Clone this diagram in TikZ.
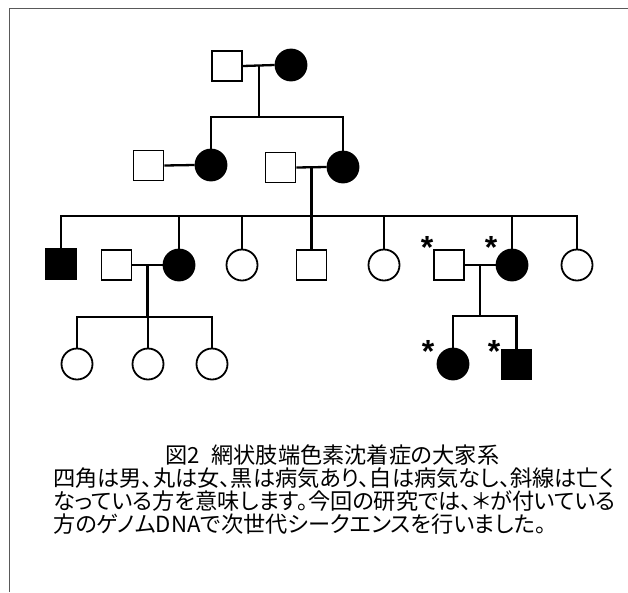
\documentclass[tikz,border=0pt]{standalone}
\usepackage{fontspec}
\newfontfamily\jpfont[RawFeature=+palt]{Noto Sans CJK JP}
\newfontfamily\astfont{Liberation Sans}
\usetikzlibrary{calc}
\tikzset{
  male/.style={draw, rectangle, line width=1.8pt, minimum size=30pt, inner sep=0pt},
  female/.style={draw, circle, line width=1.8pt, minimum size=31pt, inner sep=0pt},
  aff/.style={fill=black},
  conn/.style={line width=2.3pt, line join=miter},
  ast/.style={inner sep=0pt, anchor=base, font=\astfont\bfseries\fontsize{32pt}{32pt}\selectfont},
  capt/.style={inner sep=0pt, font=\jpfont\fontsize{22.2pt}{24pt}\selectfont},
}
\begin{document}
\begin{tikzpicture}[x=1pt,y=-1pt]
\useasboundingbox (0,0) rectangle (628,592);
\draw[line width=1pt, color=black!65] (9,592) -- (9,8) -- (628,8);
% generation I
\node[male] (A) at (227,66) {};
\node[female,aff] (B) at (291,65) {};
% generation II
\node[male] (P) at (148.5,165.5) {};
\node[female,aff] (C) at (211,165) {};
\node[male] (D) at (280.5,167.5) {};
\node[female,aff] (E) at (343,167) {};
% generation III
\node[male,aff] (S1) at (61,264) {};
\node[male] (F) at (116.5,265) {};
\node[female,aff] (G) at (179,265) {};
\node[female] (C3) at (242,265) {};
\node[male] (H) at (311.5,265) {};
\node[female] (C5) at (384,265) {};
\node[male] (I) at (449,265) {};
\node[female,aff] (J) at (512,265) {};
\node[female] (K) at (577,265) {};
% generation IV
\node[female] (L1) at (77,364) {};
\node[female] (L2) at (148,364) {};
\node[female] (L3) at (212,364) {};
\node[female,aff] (R1) at (453,364) {};
\node[male,aff] (R2) at (516.5,364.5) {};
% asterisks
\node[ast] (a1) at (427,258) {*};
\node[ast] (a2) at (491,258) {*};
\node[ast] (a3) at (428,362) {*};
\node[ast] (a4) at (494,362) {*};
% sibship coordinates
\coordinate (sib1) at (259,117);
\coordinate (sib3) at (311.5,216);
\coordinate (sib4l) at (148,317);
\coordinate (sib4r) at (480.5,316);
% connectors
\coordinate (m1) at ($(A.east)!0.5!(B.west)$);
\draw[conn] (A.east) -- (B.west);
\draw[conn] (m1) -- (m1 |- sib1);
\draw[conn] (C.north) -- (C.north |- sib1) -- (E.north |- sib1) -- (E.north);
\draw[conn] (P.east) -- (C.west);
\coordinate (m2) at ($(D.east)!0.5!(E.west)$);
\draw[conn] (D.east) -- (E.west);
\draw[conn] (m2) -- (H.north);
\draw[conn] (S1.north) -- (S1.north |- sib3) -- (K.north |- sib3) -- (K.north);
\foreach \n in {G,C3,C5,J} \draw[conn] (\n.north) -- (\n.north |- sib3);
\coordinate (m3) at ($(F.east)!0.5!(G.west)$);
\draw[conn] (F.east) -- (G.west);
\draw[conn] (m3) -- (m3 |- sib4l);
\draw[conn] (L1.north) -- (L1.north |- sib4l) -- (L3.north |- sib4l) -- (L3.north);
\draw[conn] (L2.north) -- (L2.north |- sib4l);
\coordinate (m4) at ($(I.east)!0.5!(J.west)$);
\draw[conn] (I.east) -- (J.west);
\draw[conn] (m4) -- (m4 |- sib4r);
\draw[conn] (R1.north) -- (R1.north |- sib4r) -- (R2.north |- sib4r) -- (R2.north);
% caption
\node[capt, anchor=base] (t0) at (332.5,463) {図2\hspace{0.5em}網状肢端色素沈着症の大家系};
\node[capt, anchor=base west] (t1) at (53,486) {四角は男、丸は女、黒は病気あり、白は病気なし、斜線は亡く};
\node[capt, anchor=base west] (t2) at (53,509) {なっている方を意味します。今回の研究では、＊が付いている};
\node[capt, anchor=base west] (t3) at (53,532) {方のゲノムDNAで次世代シークエンスを行いました。};
\end{tikzpicture}
\end{document}
